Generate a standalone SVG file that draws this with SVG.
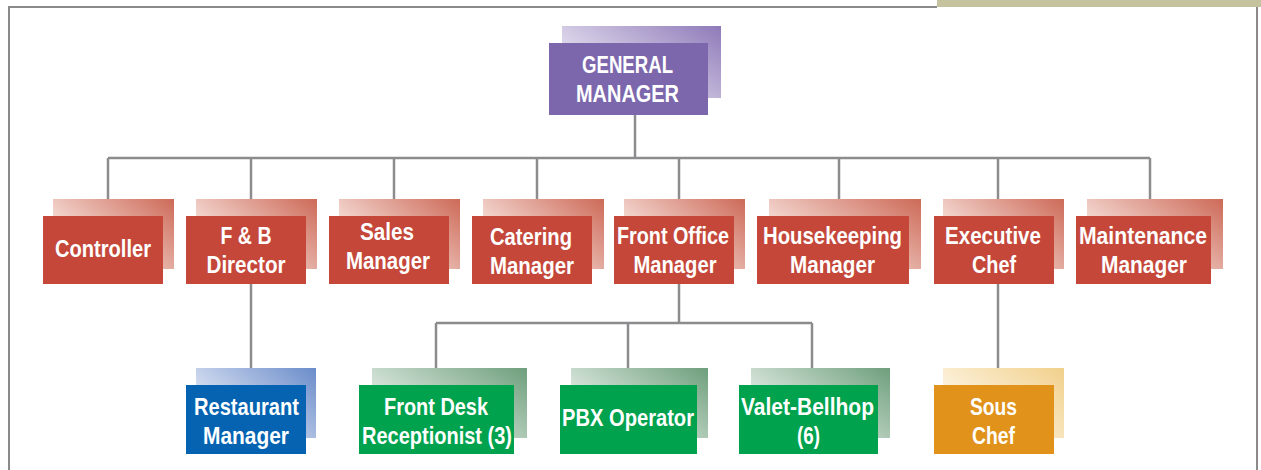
<svg xmlns="http://www.w3.org/2000/svg" width="1261" height="470" viewBox="0 0 1261 470">
  <defs>
    <linearGradient id="gRed" x1="1" y1="0" x2="0" y2="0.7">
      <stop offset="0" stop-color="#cd6a58"/>
      <stop offset="1" stop-color="#fdf3ef"/>
    </linearGradient>
    <linearGradient id="gPurple" x1="1" y1="0" x2="0" y2="0.7">
      <stop offset="0" stop-color="#8e7ab9"/>
      <stop offset="1" stop-color="#f3f0f8"/>
    </linearGradient>
    <linearGradient id="gBlue" x1="1" y1="0" x2="0" y2="0.7">
      <stop offset="0" stop-color="#6a8cca"/>
      <stop offset="1" stop-color="#eef1f9"/>
    </linearGradient>
    <linearGradient id="gGreen" x1="1" y1="0" x2="0" y2="0.7">
      <stop offset="0" stop-color="#6e9f7c"/>
      <stop offset="1" stop-color="#f1f6f2"/>
    </linearGradient>
    <linearGradient id="gOrange" x1="1" y1="0" x2="0" y2="0.7">
      <stop offset="0" stop-color="#f1d08c"/>
      <stop offset="1" stop-color="#fffaf0"/>
    </linearGradient>
  </defs>
  <style>
    .lbl { font-family: "Liberation Sans", Arial, sans-serif; font-weight: bold; font-size: 24px; fill: #ffffff; text-anchor: middle; }
    .red { fill: #c4473a; }
    .purple { fill: #7c67ad; }
    .blue { fill: #0563b2; }
    .green { fill: #00a24e; }
    .orange { fill: #e0921a; }
    .conn { stroke: #8c8c8e; stroke-width: 2.5; fill: none; }
    .frame { stroke: #8a8a8a; stroke-width: 2; fill: none; }
  </style>
  <rect width="1261" height="470" fill="#ffffff"/>
  <g id="frame">
    <polyline class="frame" points="9,470 9,7 937,7"/>
    <line class="frame" x1="1257" y1="7" x2="1257" y2="470"/>
    <rect x="937" y="0" width="324" height="7" fill="#c5c39d"/>
  </g>

  <g id="connectors">
    <line class="conn" x1="635" y1="114" x2="635" y2="158"/>
    <line class="conn" x1="108" y1="158" x2="1150" y2="158"/>
    <line class="conn" x1="108" y1="158" x2="108" y2="216"/>
    <line class="conn" x1="251" y1="158" x2="251" y2="385"/>
    <line class="conn" x1="394" y1="158" x2="394" y2="216"/>
    <line class="conn" x1="537" y1="158" x2="537" y2="216"/>
    <line class="conn" x1="679" y1="158" x2="679" y2="323"/>
    <line class="conn" x1="839" y1="158" x2="839" y2="216"/>
    <line class="conn" x1="998" y1="158" x2="998" y2="385"/>
    <line class="conn" x1="1150" y1="158" x2="1150" y2="216"/>
    <line class="conn" x1="436" y1="323" x2="812" y2="323"/>
    <line class="conn" x1="436" y1="323" x2="436" y2="385"/>
    <line class="conn" x1="628" y1="323" x2="628" y2="385"/>
    <line class="conn" x1="812" y1="323" x2="812" y2="385"/>
  </g>

  <g id="general-manager">
    <rect x="562" y="26" width="159" height="72" fill="url(#gPurple)"/>
    <rect class="purple" x="549" y="43" width="159" height="72"/>
    <text class="lbl" x="627.5" y="73" textLength="91" lengthAdjust="spacingAndGlyphs">GENERAL</text>
    <text class="lbl" x="627.5" y="102" textLength="103" lengthAdjust="spacingAndGlyphs">MANAGER</text>
  </g>

  <g id="controller">
    <rect x="53" y="199" width="121" height="70" fill="url(#gRed)"/>
    <rect class="red" x="43" y="216" width="120" height="68"/>
    <text class="lbl" x="103" y="257" textLength="96" lengthAdjust="spacingAndGlyphs">Controller</text>
  </g>
  <g id="fb-director">
    <rect x="196" y="199" width="121" height="70" fill="url(#gRed)"/>
    <rect class="red" x="186" y="216" width="120" height="68"/>
    <text class="lbl" x="246" y="244" textLength="51" lengthAdjust="spacingAndGlyphs">F &amp; B</text>
    <text class="lbl" x="246" y="273" textLength="79" lengthAdjust="spacingAndGlyphs">Director</text>
  </g>
  <g id="sales-manager">
    <rect x="339" y="199" width="121" height="70" fill="url(#gRed)"/>
    <rect class="red" x="329" y="216" width="120" height="68"/>
    <text class="lbl" x="387" y="240" textLength="54" lengthAdjust="spacingAndGlyphs">Sales</text>
    <text class="lbl" x="388" y="269" textLength="84" lengthAdjust="spacingAndGlyphs">Manager</text>
  </g>
  <g id="catering-manager">
    <rect x="483" y="199" width="121" height="70" fill="url(#gRed)"/>
    <rect class="red" x="472" y="216" width="120" height="68"/>
    <text class="lbl" x="531" y="245" textLength="82" lengthAdjust="spacingAndGlyphs">Catering</text>
    <text class="lbl" x="532" y="274" textLength="84" lengthAdjust="spacingAndGlyphs">Manager</text>
  </g>
  <g id="front-office-manager">
    <rect x="624" y="199" width="121" height="70" fill="url(#gRed)"/>
    <rect class="red" x="614" y="216" width="120" height="68"/>
    <text class="lbl" x="673" y="244" textLength="112" lengthAdjust="spacingAndGlyphs">Front Office</text>
    <text class="lbl" x="675" y="273" textLength="83" lengthAdjust="spacingAndGlyphs">Manager</text>
  </g>
  <g id="housekeeping-manager">
    <rect x="769" y="199" width="152" height="70" fill="url(#gRed)"/>
    <rect class="red" x="757" y="216" width="152" height="68"/>
    <text class="lbl" x="832.5" y="244" textLength="139" lengthAdjust="spacingAndGlyphs">Housekeeping</text>
    <text class="lbl" x="832.5" y="273" textLength="85" lengthAdjust="spacingAndGlyphs">Manager</text>
  </g>
  <g id="executive-chef">
    <rect x="943" y="199" width="121" height="70" fill="url(#gRed)"/>
    <rect class="red" x="934" y="216" width="120" height="68"/>
    <text class="lbl" x="993" y="244" textLength="96" lengthAdjust="spacingAndGlyphs">Executive</text>
    <text class="lbl" x="994" y="273" textLength="44" lengthAdjust="spacingAndGlyphs">Chef</text>
  </g>
  <g id="maintenance-manager">
    <rect x="1087" y="199" width="136" height="70" fill="url(#gRed)"/>
    <rect class="red" x="1076" y="216" width="135" height="68"/>
    <text class="lbl" x="1143" y="244" textLength="128" lengthAdjust="spacingAndGlyphs">Maintenance</text>
    <text class="lbl" x="1144" y="273" textLength="86" lengthAdjust="spacingAndGlyphs">Manager</text>
  </g>

  <g id="restaurant-manager">
    <rect x="196" y="368" width="120" height="70" fill="url(#gBlue)"/>
    <rect class="blue" x="186" y="385" width="120" height="69"/>
    <text class="lbl" x="246.5" y="415" textLength="105" lengthAdjust="spacingAndGlyphs">Restaurant</text>
    <text class="lbl" x="246" y="444" textLength="86" lengthAdjust="spacingAndGlyphs">Manager</text>
  </g>
  <g id="front-desk-receptionist">
    <rect x="372" y="368" width="155" height="70" fill="url(#gGreen)"/>
    <rect class="green" x="359" y="385" width="155" height="69"/>
    <text class="lbl" x="436" y="415" textLength="104" lengthAdjust="spacingAndGlyphs">Front Desk</text>
    <text class="lbl" x="437" y="444" textLength="150" lengthAdjust="spacingAndGlyphs">Receptionist (3)</text>
  </g>
  <g id="pbx-operator">
    <rect x="571" y="368" width="137" height="70" fill="url(#gGreen)"/>
    <rect class="green" x="560" y="385" width="137" height="69"/>
    <text class="lbl" x="628" y="426" textLength="132" lengthAdjust="spacingAndGlyphs">PBX Operator</text>
  </g>
  <g id="valet-bellhop">
    <rect x="751" y="368" width="139" height="70" fill="url(#gGreen)"/>
    <rect class="green" x="739" y="385" width="139" height="69"/>
    <text class="lbl" x="807.5" y="415" textLength="133" lengthAdjust="spacingAndGlyphs">Valet-Bellhop</text>
    <text class="lbl" x="808.5" y="444" textLength="23" lengthAdjust="spacingAndGlyphs">(6)</text>
  </g>
  <g id="sous-chef">
    <rect x="943" y="368" width="121" height="70" fill="url(#gOrange)"/>
    <rect class="orange" x="934" y="385" width="120" height="69"/>
    <text class="lbl" x="993.5" y="415" textLength="47" lengthAdjust="spacingAndGlyphs">Sous</text>
    <text class="lbl" x="993.5" y="444" textLength="43" lengthAdjust="spacingAndGlyphs">Chef</text>
  </g>
</svg>
